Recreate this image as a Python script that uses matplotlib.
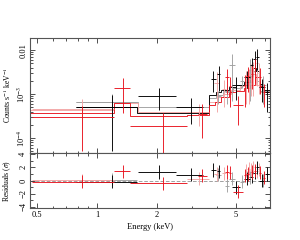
import matplotlib
matplotlib.use("Agg")
import matplotlib.pyplot as plt
import numpy as np
from matplotlib.ticker import FixedLocator, NullFormatter

plt.rcParams['font.family'] = ['Liberation Serif', 'DejaVu Serif']
plt.rcParams['mathtext.fontset'] = 'stix'

# ---- data: (E_lo, E_hi) bins, flux, flux error, residual (sigma)
k_lo   = [0.78, 1.61, 2.49, 3.72, 4.00, 4.77, 5.47, 5.85, 6.10, 6.30, 6.55, 6.97]
k_hi   = [1.59, 2.49, 3.41, 3.95, 4.17, 5.23, 5.85, 6.10, 6.30, 6.48, 6.97, 7.30]
k_flux = [5.0e-4, 9.0e-4, 5.1e-4, 2.2e-3, 2.8e-3, 1.6e-3, 2.4e-3, 4.5e-3, 6.2e-3, 7.0e-3, 1.45e-3, 1.1e-3]
k_err  = [4.5e-4, 4.6e-4, 3.0e-4, 1.1e-3, 1.6e-3, 0.85e-3, 1.0e-3, 2.0e-3, 3.5e-3, 3.5e-3, 0.8e-3, 0.7e-3]
k_res  = [-0.2, 1.3, 0.9, 1.6, 1.4, -1.0, 0.3, 0.6, 1.2, 2.0, 0.0, 1.0]

g_lo   = [0.78, 3.95, 4.40, 4.62, 5.23, 5.75, 6.60]
g_hi   = [1.59, 4.20, 4.62, 4.92, 5.50, 6.00, 7.05]
g_flux = [6.6e-4, 9.0e-4, 1.1e-3, 4.5e-3, 2.0e-3, 3.5e-3, 1.6e-3]
g_err  = [3.5e-4, 3.0e-4, 0.5e-3, 3.8e-3, 0.6e-3, 2.8e-3, 1.0e-3]
g_res  = [0.1, 0.9, -0.8, 0.3, -0.2, 0.5, 0.0]

r_lo   = [0.47, 1.22, 1.46, 3.20, 4.38, 4.60, 4.82, 5.45, 5.62, 5.95, 6.15, 6.52, 6.80]
r_hi   = [1.21, 1.47, 2.83, 3.55, 4.60, 4.72, 5.41, 5.62, 5.80, 6.08, 6.30, 6.68, 7.00]
r_flux = [3.0e-4, 1.37e-3, 1.9e-4, 3.5e-4, 2.4e-3, 1.5e-3, 5.6e-4, 1.6e-3, 2.6e-3, 2.8e-3, 4.0e-3, 2.5e-3, 1.1e-3]
r_err  = [2.5e-4, 1.0e-3, 1.8e-4, 2.5e-4, 1.4e-3, 1.0e-3, 3.6e-4, 1.1e-3, 1.5e-3, 1.5e-3, 2.2e-3, 1.5e-3, 0.6e-3]
r_res  = [-0.15, 1.4, -0.45, 0.75, 1.3, 1.2, -1.7, 0.8, 1.0, 1.3, 1.5, 1.2, 0.4]

p_lo   = [0.47, 2.83, 3.88, 4.25, 5.55, 5.70, 5.85, 6.00, 6.30, 6.45]
p_hi   = [1.21, 3.65, 4.12, 4.45, 5.70, 5.85, 6.00, 6.15, 6.45, 6.60]
p_flux = [4.6e-4, 3.9e-4, 1.8e-3, 1.3e-3, 2.0e-3, 2.2e-3, 2.9e-3, 3.2e-3, 5.0e-3, 3.0e-3]
p_err  = [3.0e-4, 2.0e-4, 1.4e-3, 0.8e-3, 1.4e-3, 1.6e-3, 2.0e-3, 2.3e-3, 3.5e-3, 2.0e-3]
p_res  = [0.05, 0.3, 1.0, 1.1, 1.5, 1.8, 1.6, 2.0, 1.4, 1.7]

# ---- folded models (step lines)
k_mod_edges = [0.78, 1.59, 3.65, 3.95, 4.2, 4.6, 5.0, 5.45, 5.85, 6.1, 6.3, 6.5, 6.75, 7.4]
k_mod = [5.1e-4, 3.7e-4, 9.5e-4, 1.1e-3, 1.25e-3, 1.45e-3, 1.65e-3, 1.9e-3, 2.6e-3, 4.0e-3, 3.4e-3, 1.7e-3, 1.25e-3]
g_mod_edges = [0.78, 1.60, 3.65, 3.95, 4.3, 4.8, 5.3, 5.8, 6.1, 6.35, 6.6, 7.4]
g_mod = [6.6e-4, 5.1e-4, 8.1e-4, 9.5e-4, 1.15e-3, 1.35e-3, 1.6e-3, 2.4e-3, 3.3e-3, 2.0e-3, 1.2e-3]
r_mod_edges = [0.3, 1.21, 1.46, 2.83, 3.65, 3.9, 4.2, 4.6, 5.0, 5.5, 5.9, 6.2, 6.5, 6.8, 7.4]
r_mod = [3.7e-4, 6.2e-4, 3.15e-4, 3.4e-4, 5.6e-4, 6.6e-4, 8.5e-4, 1.1e-3, 1.2e-3, 1.4e-3, 1.6e-3, 2.5e-3, 1.5e-3, 1.1e-3]
p_mod_edges = [0.3, 1.21, 1.60, 3.65, 4.0, 4.3, 4.7, 5.2, 5.6, 6.0, 6.3, 6.6, 7.4]
p_mod = [4.3e-4, 6.2e-4, 3.9e-4, 6.6e-4, 8.5e-4, 1.0e-3, 1.25e-3, 1.5e-3, 1.9e-3, 2.8e-3, 1.6e-3, 1.1e-3]

groups = [
    (g_lo, g_hi, g_flux, g_err, g_res, g_mod_edges, g_mod, '#a0a0a0'),
    (p_lo, p_hi, p_flux, p_err, p_res, p_mod_edges, p_mod, '#f2a4a4'),
    (k_lo, k_hi, k_flux, k_err, k_res, k_mod_edges, k_mod, '#000000'),
    (r_lo, r_hi, r_flux, r_err, r_res, r_mod_edges, r_mod, '#e8141e'),
]

fig = plt.figure(figsize=(3, 2.4), dpi=100)
ax1 = fig.add_axes([0.1, 0.3625, 0.8, 0.48])
ax2 = fig.add_axes([0.1, 0.133, 0.8, 0.2295], sharex=ax1)

lw = 0.65
for lo, hi, flux, err, res, medges, mod, col in groups:
    lo = np.array(lo); hi = np.array(hi)
    xc = (lo + hi) / 2
    xe = (hi - lo) / 2
    flux = np.array(flux); err = np.array(err)
    low = np.minimum(err, flux - 1e-6)
    ax1.errorbar(xc, flux, xerr=xe, yerr=[low, err], fmt='none', ecolor=col,
                 elinewidth=lw, capsize=0)
    ax1.stairs(mod, medges, baseline=None, color=col, lw=lw)
    ax2.errorbar(xc, res, xerr=xe, yerr=1.0, fmt='none', ecolor=col,
                 elinewidth=lw, capsize=0)

ax2.axhline(0, color='#9a9a9a', ls=(0, (4, 2)), lw=lw, zorder=0)

ax1.set_xscale('log')
ax1.set_yscale('log')
ax1.set_xlim(0.46, 7.4)
ax1.set_ylim(4.6e-5, 1.9e-2)
ax2.set_ylim(-4.2, 4.2)

xmaj = [0.5, 1, 2, 5]
xmin = [0.6, 0.7, 0.8, 0.9, 3, 4, 6, 7]
for ax in (ax1, ax2):
    ax.xaxis.set_major_locator(FixedLocator(xmaj))
    ax.xaxis.set_minor_locator(FixedLocator(xmin))
    ax.xaxis.set_minor_formatter(NullFormatter())
    ax.tick_params(which='both', direction='in', top=True, right=True,
                   color='#333333', width=0.6, labelsize=6, pad=2)
    ax.tick_params(which='major', length=3.5)
    ax.tick_params(which='minor', length=1.8)
    for s in ax.spines.values():
        s.set_color('#555555')
        s.set_linewidth(0.8)

ax1.tick_params(axis='x', labelbottom=False)
ax2.set_xticklabels(['0.5', '1', '2', '5'])

ax1.set_yticks([1e-4, 1e-3, 1e-2])
ax1.set_yticklabels(['10$^{-4}$', '10$^{-3}$', '0.01'], rotation=90, va='center')
ax1.yaxis.set_minor_locator(FixedLocator(
    [m * 10.0 ** e for e in (-5, -4, -3, -2) for m in range(2, 10)]))
ax1.yaxis.set_minor_formatter(NullFormatter())

ax2.set_yticks([-4, -2, 0, 2, 4])
ax2.set_yticklabels(['\u22124', '\u22122', '0', '2', '4'], rotation=90, va='center')
ax2.yaxis.set_minor_locator(FixedLocator([-3, -1, 1, 3]))

ax1.set_ylabel('Counts s$^{-1}$ keV$^{-1}$', fontsize=5.5)
ax1.yaxis.set_label_coords(-0.072, 0.5)
ax2.set_ylabel('Residuals ($\\sigma$)', fontsize=5.5)
ax2.yaxis.set_label_coords(-0.072, 0.5)
ax2.set_xlabel('Energy (keV)', fontsize=6, labelpad=3)

fig.savefig('out.png', dpi=100)
